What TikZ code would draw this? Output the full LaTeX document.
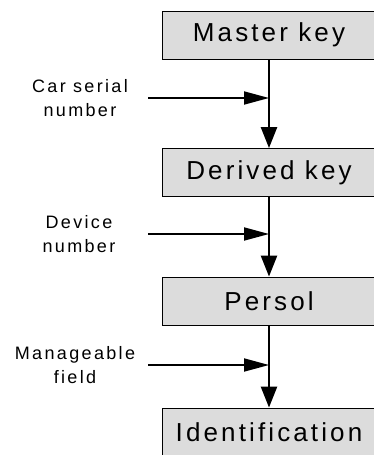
\documentclass[tikz,border=0pt]{standalone}
\usepackage{fontspec}
\setmainfont{Liberation Sans}
\newfontfamily\boxfont[LetterSpace=12]{Liberation Sans}
\newfontfamily\labfont[LetterSpace=13]{Liberation Sans}
\usetikzlibrary{arrows.meta}
\definecolor{boxgray}{RGB}{220,220,220}
\tikzset{
  keybox/.style={draw, line width=0.9pt, fill=boxgray, minimum width=214pt, minimum height=48pt, inner sep=0pt, font=\boxfont\fontsize{26}{30}\selectfont},
  inlabel/.style={align=center, inner sep=0pt, font=\labfont\fontsize{18}{24}\selectfont},
  flow/.style={line width=2.6pt, -{Triangle[length=21pt,width=16pt]}},
  feed/.style={line width=1.8pt, -{Triangle[length=25pt,width=13pt]}},
}
\begin{document}
\begin{tikzpicture}[x=1pt,y=-1pt]
        \clip (0,0) rectangle (374,455);
        \node[keybox] (master) at (269,35) {Master key};
        \node[keybox] (derived) at (269,172.5) {Derived key};
        \node[keybox] (persol) at (269,301) {Persol};
        \node[keybox] (ident) at (269,432) {Identification};
        \draw[flow] (master.south) -- (derived.north);
        \draw[flow] (derived.south) -- (persol.north);
        \draw[flow] (persol.south) -- (ident.north);
        % inputs
        \coordinate (carin) at (148,98);
        \coordinate (devin) at (148,234);
        \coordinate (manin) at (148,365);
        \node[inlabel] (carlab) at (80,98) {Car serial\\number};
        \node[inlabel] (devlab) at (79,234) {Device\\number};
        \node[inlabel] (manlab) at (75,365) {Manageable\\field};
        \draw[feed] (carin) -- (carin -| master.south);
        \draw[feed] (devin) -- (devin -| derived.south);
        \draw[feed] (manin) -- (manin -| persol.south);
\end{tikzpicture}
\end{document}
